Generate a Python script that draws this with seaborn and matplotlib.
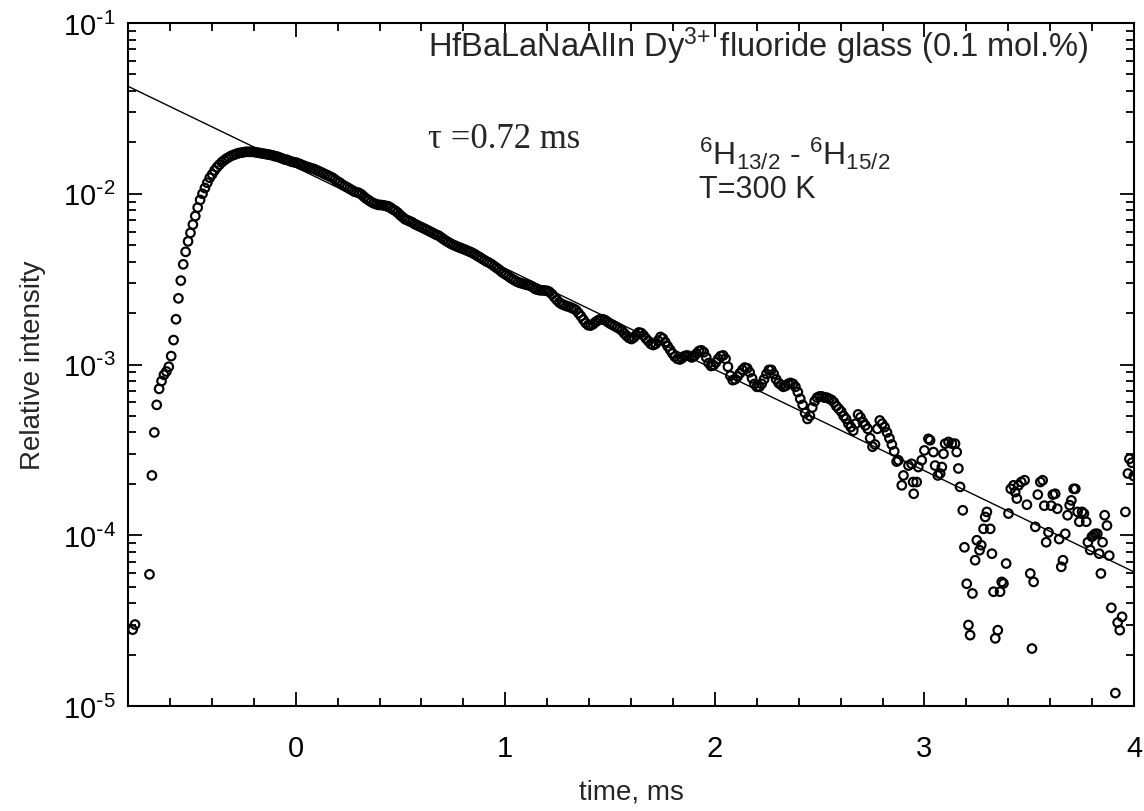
import matplotlib
matplotlib.use("Agg")
import matplotlib.pyplot as plt
import seaborn as sns
import numpy as np
import pandas as pd
from matplotlib.ticker import MultipleLocator, LogLocator, FuncFormatter, NullFormatter

# decay samples on the acquisition grid (ms), intensity in units of 1e-3
DECAY_T0 = -0.778
DECAY_DT = 0.0115
decay_y_e3 = [
    0.028, 0.030, np.nan, np.nan, np.nan, np.nan, np.nan, 0.059, 0.224, 0.40,
    0.58, 0.72, 0.80, 0.87, 0.91, 0.97, 1.12, 1.39, 1.84, 2.44,
    3.1, 3.86, 4.57, 5.26, 5.9, 6.6, 7.4, 8.3, 9.2, 10.0,
    10.8, 11.6, 12.4, 13.0, 13.7, 14.3, 14.8, 15.3, 15.7, 16.1,
    16.4, 16.7, 16.9, 17.1, 17.3, 17.4, 17.5, 17.6, 17.6, 17.6,
    17.6, 17.5, 17.4, 17.3, 17.2, 17.1, 17.0, 16.9, 16.8, 16.6,
    16.5, 16.3, 16.1, 15.9, 15.8, 15.6, 15.4, 15.3, 15.2, 15.0,
    14.8, 14.6, 14.4, 14.3, 14.1, 14.0, 13.8, 13.6, 13.4, 13.2,
    13.0, 12.8, 12.6, 12.4, 12.1, 11.8, 11.6, 11.3, 11.1, 10.9,
    10.7, 10.5, 10.3, 10.2, 10.1, 9.9, 9.6, 9.35, 9.15, 8.95,
    8.8, 8.7, 8.6, 8.6, 8.55, 8.5, 8.45, 8.3, 8.1, 7.95,
    7.75, 7.5, 7.3, 7.1, 7.0, 6.9, 6.8, 6.65, 6.55, 6.45,
    6.35, 6.25, 6.15, 6.05, 5.95, 5.85, 5.75, 5.68, 5.55, 5.42,
    5.3, 5.2, 5.1, 5.02, 4.95, 4.88, 4.82, 4.76, 4.7, 4.63,
    4.57, 4.5, 4.42, 4.33, 4.25, 4.16, 4.08, 4.0, 3.94, 3.86,
    3.77, 3.68, 3.6, 3.5, 3.42, 3.35, 3.28, 3.2, 3.14, 3.08,
    3.03, 3.0, 2.97, 2.94, 2.92, 2.89, 2.84, 2.77, 2.74, 2.72,
    2.72, 2.71, 2.70, 2.66, 2.58, 2.48, 2.39, 2.31, 2.26, 2.23,
    2.2, 2.18, 2.15, 2.12, 2.08, 2.0, 1.92, 1.83, 1.75, 1.70,
    1.69, 1.72, 1.77, 1.81, 1.84, 1.84, 1.82, 1.78, 1.74, 1.71,
    1.68, 1.65, 1.62, 1.58, 1.52, 1.47, 1.43, 1.41, 1.44, 1.49,
    1.54, 1.53, 1.48, 1.42, 1.37, 1.32, 1.30, 1.32, 1.38, 1.45,
    1.42, 1.35, 1.28, 1.22, 1.16, 1.11, 1.08, 1.07, 1.09, 1.12,
    1.13, 1.12, 1.10, 1.12, 1.16, 1.20, 1.21, 1.18, 1.10, 1.02,
    0.98, 0.99, 1.03, 1.08, 1.12, 1.13, 1.08, 0.97, 0.86, 0.81,
    0.82, 0.85, 0.89, 0.93, 0.96, 0.95, 0.90, 0.83, 0.77, 0.74,
    0.74, 0.77, 0.82, 0.88, 0.93, 0.93, 0.88, 0.82, 0.78, 0.76,
    0.74, 0.75, 0.77, 0.78, 0.77, 0.74, 0.69, 0.63, 0.58, 0.52,
    0.48, 0.50, 0.56, 0.61, 0.64, 0.65, 0.65, 0.64, 0.64, 0.63,
    0.62, 0.60, 0.57, 0.55, 0.53, 0.50, 0.48, 0.45, 0.43, 0.41,
    0.45, 0.51, 0.49, 0.46, 0.44, 0.42, 0.37, 0.33, 0.34, 0.42,
    0.47, 0.45, 0.43, 0.40, 0.37, 0.34, 0.31, 0.27,
]

# noisy tail, read point by point (ms, intensity)
tail_t = [
    2.876, 2.892, 2.900, 2.924, 2.939, 2.946, 2.949, 2.963, 2.971, 2.987,
    3.000, 3.019, 3.027, 3.043, 3.051, 3.064, 3.075, 3.083, 3.091, 3.099,
    3.115, 3.131, 3.146, 3.154, 3.162, 3.170, 3.183, 3.191, 3.202, 3.210,
    3.218, 3.229, 3.242, 3.250, 3.263, 3.271, 3.282, 3.290, 3.298, 3.314,
    3.322, 3.330, 3.338, 3.350, 3.361, 3.369, 3.377, 3.390, 3.401, 3.412,
    3.425, 3.433, 3.441, 3.449, 3.462, 3.478, 3.489, 3.505, 3.513, 3.521,
    3.529, 3.541, 3.553, 3.564, 3.572, 3.581, 3.592, 3.605, 3.613, 3.624,
    3.634, 3.643, 3.653, 3.661, 3.672, 3.683, 3.693, 3.701, 3.712, 3.720,
    3.731, 3.739, 3.752, 3.761, 3.772, 3.780, 3.791, 3.799, 3.807, 3.815,
    3.825, 3.834, 3.842, 3.850, 3.860, 3.871, 3.882, 3.892, 3.911, 3.922,
    3.932, 3.943, 3.959, 3.971, 3.978, 3.990, 3.999,
]
tail_y = [
    2.75e-4, 1.96e-4, 2.24e-4, 2.56e-4, 2.62e-4, 2.05e-4, 1.75e-4, 2.05e-4, 2.51e-4, 2.75e-4,
    3.14e-4, 3.67e-4, 3.60e-4, 3.07e-4, 2.56e-4, 2.24e-4, 2.30e-4, 2.51e-4, 3.00e-4, 3.44e-4,
    3.52e-4, 3.44e-4, 3.44e-4, 3.07e-4, 2.46e-4, 1.92e-4, 1.40e-4, 8.5e-5, 5.2e-5, 2.98e-5,
    2.6e-5, 4.56e-5, 7.14e-5, 9.35e-5, 8.17e-5, 8.75e-5, 1.09e-4, 1.28e-4, 1.37e-4, 1.09e-4,
    7.8e-5, 4.67e-5, 2.49e-5, 2.78e-5, 4.67e-5, 5.33e-5, 5.22e-5, 6.83e-5, 1.34e-4, 1.87e-4,
    1.96e-4, 1.79e-4, 1.64e-4, 1.96e-4, 2.05e-4, 2.10e-4, 1.51e-4, 5.97e-5, 2.17e-5, 5.33e-5,
    1.12e-4, 1.73e-4, 2.05e-4, 2.10e-4, 1.49e-4, 9.1e-5, 1.04e-4, 1.49e-4, 1.73e-4, 1.75e-4,
    1.43e-4, 9.5e-5, 6.53e-5, 7.14e-5, 1.02e-4, 1.31e-4, 1.50e-4, 1.60e-4, 1.87e-4, 1.87e-4,
    1.37e-4, 1.20e-4, 1.37e-4, 1.34e-4, 1.20e-4, 9.1e-5, 8.2e-5, 9.8e-5, 1.00e-4, 1.02e-4,
    1.02e-4, 7.8e-5, 5.97e-5, 9.1e-5, 1.31e-4, 1.14e-4, 7.6e-5, 3.76e-5, 1.19e-5, 3.08e-5,
    2.78e-5, 3.33e-5, 1.37e-4, 2.30e-4, 2.80e-4, 2.66e-4, 2.22e-4,
]

# single-exponential fit (tau ~ 0.72 ms), end points
fit_t = [-0.8, 4.0]
fit_y = [4.26e-2, 6.1e-5]

decay_t = DECAY_T0 + DECAY_DT * np.arange(len(decay_y_e3))
df = pd.DataFrame({
    "t": np.concatenate([decay_t, tail_t]),
    "y": np.concatenate([np.array(decay_y_e3) * 1e-3, tail_y]),
}).dropna()
fit_df = pd.DataFrame({"t": fit_t, "y": fit_y})

sns.set_theme(style="ticks")
plt.rcParams["font.family"] = ["Liberation Sans", "DejaVu Sans"]
plt.rcParams["axes.unicode_minus"] = False
plt.rcParams["mathtext.default"] = "regular"

fig = plt.figure(figsize=(11.44, 8.12), dpi=100)
ax = fig.add_axes([128 / 1144, 1 - 707 / 812, 1006 / 1144, 683 / 812])

sns.scatterplot(data=df, x="t", y="y", ax=ax, s=38, marker="o",
                facecolors="none", edgecolor="black", linewidth=1.55, zorder=3)
sns.lineplot(data=fit_df, x="t", y="y", ax=ax, color="black", linewidth=1.0, zorder=2)

ax.set_yscale("log")
ax.set_xlim(-0.8, 4.0)
ax.set_ylim(1e-5, 1e-1)

ax.xaxis.set_major_locator(MultipleLocator(1))
ax.xaxis.set_minor_locator(MultipleLocator(0.2))
ax.yaxis.set_major_locator(LogLocator(base=10))
ax.yaxis.set_minor_locator(LogLocator(base=10, subs=np.arange(2, 10)))
ax.yaxis.set_minor_formatter(NullFormatter())
ax.yaxis.set_major_formatter(
    FuncFormatter(lambda v, p: r"10$^{\text{-}%d}$" % abs(round(np.log10(v)))))

ax.tick_params(which="both", direction="in", top=True, right=True, width=1.3,
               labelsize=21, colors="black")
ax.tick_params(which="major", length=10)
ax.tick_params(which="minor", length=5.5)
ax.tick_params(axis="x", pad=20)
ax.tick_params(axis="y", pad=9)
for sp in ax.spines.values():
    sp.set_linewidth(1.5)
    sp.set_color("black")

ax.set_xlabel("time, ms", fontsize=20, labelpad=12)
ax.set_ylabel("Relative intensity", fontsize=20, labelpad=12)

ax.text(0.298, 0.952, r"HfBaLaNaAlIn Dy$^{3{+}}$ fluoride glass (0.1 mol.%)",
        transform=ax.transAxes, fontsize=23.5, va="baseline")
ax.text(0.298, 0.818, "τ =0.72 ms", transform=ax.transAxes, fontsize=25,
        family=["Liberation Serif", "DejaVu Serif"], va="baseline")
ax.text(0.568, 0.794, "$^6$H$_{13/2}$ - $^6$H$_{15/2}$",
        transform=ax.transAxes, fontsize=23, va="baseline")
ax.text(0.568, 0.745, "T=300 K", transform=ax.transAxes, fontsize=22, va="baseline")

fig.savefig("out.png", dpi=100)
